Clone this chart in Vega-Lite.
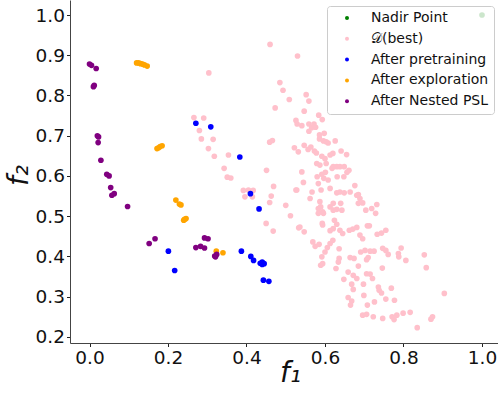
{
  "$schema": "https://vega.github.io/schema/vega-lite/v6.json",
  "width": 428,
  "height": 343,
  "autosize": "none",
  "padding": {"left": 70, "top": 0, "right": 0, "bottom": 53},
  "background": "white",
  "config": {
    "view": {"stroke": null},
    "font": "DejaVu Sans",
    "axis": {"grid": false}
  },
  "datasets": {
    "pts": [
      {"s": "Nadir Point", "x": 1.0, "y": 1.0},
      {"s": "𝒟(best)", "x": 0.46, "y": 0.927},
      {"s": "𝒟(best)", "x": 0.53, "y": 0.898},
      {"s": "𝒟(best)", "x": 0.304, "y": 0.856},
      {"s": "𝒟(best)", "x": 0.485, "y": 0.832},
      {"s": "𝒟(best)", "x": 0.493, "y": 0.813},
      {"s": "𝒟(best)", "x": 0.509, "y": 0.79},
      {"s": "𝒟(best)", "x": 0.473, "y": 0.769},
      {"s": "𝒟(best)", "x": 0.526, "y": 0.738},
      {"s": "𝒟(best)", "x": 0.529, "y": 0.729},
      {"s": "𝒟(best)", "x": 0.266, "y": 0.745},
      {"s": "𝒟(best)", "x": 0.291, "y": 0.744},
      {"s": "𝒟(best)", "x": 0.28, "y": 0.713},
      {"s": "𝒟(best)", "x": 0.285, "y": 0.692},
      {"s": "𝒟(best)", "x": 0.315, "y": 0.691},
      {"s": "𝒟(best)", "x": 0.303, "y": 0.668},
      {"s": "𝒟(best)", "x": 0.318, "y": 0.649},
      {"s": "𝒟(best)", "x": 0.354, "y": 0.652},
      {"s": "𝒟(best)", "x": 0.459, "y": 0.684},
      {"s": "𝒟(best)", "x": 0.466, "y": 0.688},
      {"s": "𝒟(best)", "x": 0.522, "y": 0.67},
      {"s": "𝒟(best)", "x": 0.532, "y": 0.66},
      {"s": "𝒟(best)", "x": 0.343, "y": 0.619},
      {"s": "𝒟(best)", "x": 0.351, "y": 0.597},
      {"s": "𝒟(best)", "x": 0.36, "y": 0.595},
      {"s": "𝒟(best)", "x": 0.451, "y": 0.614},
      {"s": "𝒟(best)", "x": 0.469, "y": 0.574},
      {"s": "𝒟(best)", "x": 0.392, "y": 0.564},
      {"s": "𝒟(best)", "x": 0.405, "y": 0.565},
      {"s": "𝒟(best)", "x": 0.417, "y": 0.564},
      {"s": "𝒟(best)", "x": 0.396, "y": 0.548},
      {"s": "𝒟(best)", "x": 0.415, "y": 0.548},
      {"s": "𝒟(best)", "x": 0.463, "y": 0.55},
      {"s": "𝒟(best)", "x": 0.528, "y": 0.565},
      {"s": "𝒟(best)", "x": 0.552, "y": 0.802},
      {"s": "𝒟(best)", "x": 0.559, "y": 0.786},
      {"s": "𝒟(best)", "x": 0.547, "y": 0.761},
      {"s": "𝒟(best)", "x": 0.584, "y": 0.751},
      {"s": "𝒟(best)", "x": 0.593, "y": 0.74},
      {"s": "𝒟(best)", "x": 0.541, "y": 0.725},
      {"s": "𝒟(best)", "x": 0.559, "y": 0.729},
      {"s": "𝒟(best)", "x": 0.566, "y": 0.72},
      {"s": "𝒟(best)", "x": 0.572, "y": 0.729},
      {"s": "𝒟(best)", "x": 0.576, "y": 0.721},
      {"s": "𝒟(best)", "x": 0.559, "y": 0.711},
      {"s": "𝒟(best)", "x": 0.586, "y": 0.692},
      {"s": "𝒟(best)", "x": 0.596, "y": 0.687},
      {"s": "𝒟(best)", "x": 0.603, "y": 0.685},
      {"s": "𝒟(best)", "x": 0.608, "y": 0.682},
      {"s": "𝒟(best)", "x": 0.626, "y": 0.687},
      {"s": "𝒟(best)", "x": 0.598, "y": 0.706},
      {"s": "𝒟(best)", "x": 0.586, "y": 0.702},
      {"s": "𝒟(best)", "x": 0.547, "y": 0.676},
      {"s": "𝒟(best)", "x": 0.557, "y": 0.666},
      {"s": "𝒟(best)", "x": 0.564, "y": 0.672},
      {"s": "𝒟(best)", "x": 0.573, "y": 0.662},
      {"s": "𝒟(best)", "x": 0.578, "y": 0.657},
      {"s": "𝒟(best)", "x": 0.592, "y": 0.649},
      {"s": "𝒟(best)", "x": 0.6, "y": 0.643},
      {"s": "𝒟(best)", "x": 0.613, "y": 0.652},
      {"s": "𝒟(best)", "x": 0.62, "y": 0.656},
      {"s": "𝒟(best)", "x": 0.641, "y": 0.662},
      {"s": "𝒟(best)", "x": 0.655, "y": 0.653},
      {"s": "𝒟(best)", "x": 0.579, "y": 0.631},
      {"s": "𝒟(best)", "x": 0.587, "y": 0.627},
      {"s": "𝒟(best)", "x": 0.603, "y": 0.631},
      {"s": "𝒟(best)", "x": 0.621, "y": 0.623},
      {"s": "𝒟(best)", "x": 0.63, "y": 0.623},
      {"s": "𝒟(best)", "x": 0.638, "y": 0.623},
      {"s": "𝒟(best)", "x": 0.649, "y": 0.623},
      {"s": "𝒟(best)", "x": 0.618, "y": 0.619},
      {"s": "𝒟(best)", "x": 0.661, "y": 0.614},
      {"s": "𝒟(best)", "x": 0.541, "y": 0.61},
      {"s": "𝒟(best)", "x": 0.58, "y": 0.598},
      {"s": "𝒟(best)", "x": 0.583, "y": 0.581},
      {"s": "𝒟(best)", "x": 0.597, "y": 0.594},
      {"s": "𝒟(best)", "x": 0.608, "y": 0.59},
      {"s": "𝒟(best)", "x": 0.631, "y": 0.598},
      {"s": "𝒟(best)", "x": 0.648, "y": 0.598},
      {"s": "𝒟(best)", "x": 0.676, "y": 0.576},
      {"s": "𝒟(best)", "x": 0.545, "y": 0.584},
      {"s": "𝒟(best)", "x": 0.567, "y": 0.56},
      {"s": "𝒟(best)", "x": 0.59, "y": 0.565},
      {"s": "𝒟(best)", "x": 0.613, "y": 0.569},
      {"s": "𝒟(best)", "x": 0.63, "y": 0.558},
      {"s": "𝒟(best)", "x": 0.638, "y": 0.56},
      {"s": "𝒟(best)", "x": 0.649, "y": 0.558},
      {"s": "𝒟(best)", "x": 0.664, "y": 0.56},
      {"s": "𝒟(best)", "x": 0.685, "y": 0.554},
      {"s": "𝒟(best)", "x": 0.592, "y": 0.604},
      {"s": "𝒟(best)", "x": 0.601, "y": 0.609},
      {"s": "𝒟(best)", "x": 0.656, "y": 0.609},
      {"s": "𝒟(best)", "x": 0.526, "y": 0.565},
      {"s": "𝒟(best)", "x": 0.562, "y": 0.544},
      {"s": "𝒟(best)", "x": 0.681, "y": 0.552},
      {"s": "𝒟(best)", "x": 0.689, "y": 0.544},
      {"s": "𝒟(best)", "x": 0.621, "y": 0.532},
      {"s": "𝒟(best)", "x": 0.64, "y": 0.532},
      {"s": "𝒟(best)", "x": 0.587, "y": 0.536},
      {"s": "𝒟(best)", "x": 0.589, "y": 0.523},
      {"s": "𝒟(best)", "x": 0.594, "y": 0.511},
      {"s": "𝒟(best)", "x": 0.583, "y": 0.519},
      {"s": "𝒟(best)", "x": 0.583, "y": 0.507},
      {"s": "𝒟(best)", "x": 0.596, "y": 0.507},
      {"s": "𝒟(best)", "x": 0.613, "y": 0.523},
      {"s": "𝒟(best)", "x": 0.621, "y": 0.515},
      {"s": "𝒟(best)", "x": 0.63, "y": 0.517},
      {"s": "𝒟(best)", "x": 0.643, "y": 0.515},
      {"s": "𝒟(best)", "x": 0.685, "y": 0.532},
      {"s": "𝒟(best)", "x": 0.696, "y": 0.533},
      {"s": "𝒟(best)", "x": 0.704, "y": 0.515},
      {"s": "𝒟(best)", "x": 0.719, "y": 0.519},
      {"s": "𝒟(best)", "x": 0.732, "y": 0.529},
      {"s": "𝒟(best)", "x": 0.729, "y": 0.507},
      {"s": "𝒟(best)", "x": 0.512, "y": 0.501},
      {"s": "𝒟(best)", "x": 0.593, "y": 0.482},
      {"s": "𝒟(best)", "x": 0.624, "y": 0.49},
      {"s": "𝒟(best)", "x": 0.63, "y": 0.48},
      {"s": "𝒟(best)", "x": 0.536, "y": 0.473},
      {"s": "𝒟(best)", "x": 0.547, "y": 0.461},
      {"s": "𝒟(best)", "x": 0.613, "y": 0.464},
      {"s": "𝒟(best)", "x": 0.621, "y": 0.469},
      {"s": "𝒟(best)", "x": 0.638, "y": 0.465},
      {"s": "𝒟(best)", "x": 0.645, "y": 0.457},
      {"s": "𝒟(best)", "x": 0.662, "y": 0.465},
      {"s": "𝒟(best)", "x": 0.671, "y": 0.468},
      {"s": "𝒟(best)", "x": 0.681, "y": 0.472},
      {"s": "𝒟(best)", "x": 0.689, "y": 0.453},
      {"s": "𝒟(best)", "x": 0.696, "y": 0.444},
      {"s": "𝒟(best)", "x": 0.708, "y": 0.476},
      {"s": "𝒟(best)", "x": 0.713, "y": 0.476},
      {"s": "𝒟(best)", "x": 0.733, "y": 0.455},
      {"s": "𝒟(best)", "x": 0.744, "y": 0.458},
      {"s": "𝒟(best)", "x": 0.755, "y": 0.465},
      {"s": "𝒟(best)", "x": 0.62, "y": 0.44},
      {"s": "𝒟(best)", "x": 0.613, "y": 0.432},
      {"s": "𝒟(best)", "x": 0.606, "y": 0.422},
      {"s": "𝒟(best)", "x": 0.569, "y": 0.436},
      {"s": "𝒟(best)", "x": 0.575, "y": 0.425},
      {"s": "𝒟(best)", "x": 0.585, "y": 0.43},
      {"s": "𝒟(best)", "x": 0.6, "y": 0.411},
      {"s": "𝒟(best)", "x": 0.592, "y": 0.399},
      {"s": "𝒟(best)", "x": 0.636, "y": 0.419},
      {"s": "𝒟(best)", "x": 0.691, "y": 0.411},
      {"s": "𝒟(best)", "x": 0.702, "y": 0.415},
      {"s": "𝒟(best)", "x": 0.715, "y": 0.413},
      {"s": "𝒟(best)", "x": 0.725, "y": 0.413},
      {"s": "𝒟(best)", "x": 0.747, "y": 0.42},
      {"s": "𝒟(best)", "x": 0.755, "y": 0.415},
      {"s": "𝒟(best)", "x": 0.664, "y": 0.397},
      {"s": "𝒟(best)", "x": 0.674, "y": 0.395},
      {"s": "𝒟(best)", "x": 0.636, "y": 0.395},
      {"s": "𝒟(best)", "x": 0.634, "y": 0.386},
      {"s": "𝒟(best)", "x": 0.706, "y": 0.392},
      {"s": "𝒟(best)", "x": 0.71, "y": 0.397},
      {"s": "𝒟(best)", "x": 0.589, "y": 0.378},
      {"s": "𝒟(best)", "x": 0.594, "y": 0.382},
      {"s": "𝒟(best)", "x": 0.685, "y": 0.376},
      {"s": "𝒟(best)", "x": 0.628, "y": 0.37},
      {"s": "𝒟(best)", "x": 0.746, "y": 0.371},
      {"s": "𝒟(best)", "x": 0.659, "y": 0.361},
      {"s": "𝒟(best)", "x": 0.672, "y": 0.353},
      {"s": "𝒟(best)", "x": 0.681, "y": 0.345},
      {"s": "𝒟(best)", "x": 0.648, "y": 0.343},
      {"s": "𝒟(best)", "x": 0.706, "y": 0.357},
      {"s": "𝒟(best)", "x": 0.715, "y": 0.356},
      {"s": "𝒟(best)", "x": 0.721, "y": 0.345},
      {"s": "𝒟(best)", "x": 0.668, "y": 0.331},
      {"s": "𝒟(best)", "x": 0.672, "y": 0.318},
      {"s": "𝒟(best)", "x": 0.698, "y": 0.331},
      {"s": "𝒟(best)", "x": 0.736, "y": 0.324},
      {"s": "𝒟(best)", "x": 0.659, "y": 0.298},
      {"s": "𝒟(best)", "x": 0.668, "y": 0.289},
      {"s": "𝒟(best)", "x": 0.699, "y": 0.303},
      {"s": "𝒟(best)", "x": 0.726, "y": 0.287},
      {"s": "𝒟(best)", "x": 0.738, "y": 0.316},
      {"s": "𝒟(best)", "x": 0.744, "y": 0.309},
      {"s": "𝒟(best)", "x": 0.665, "y": 0.279},
      {"s": "𝒟(best)", "x": 0.708, "y": 0.279},
      {"s": "𝒟(best)", "x": 0.696, "y": 0.254},
      {"s": "𝒟(best)", "x": 0.706, "y": 0.256},
      {"s": "𝒟(best)", "x": 0.723, "y": 0.25},
      {"s": "𝒟(best)", "x": 0.747, "y": 0.246},
      {"s": "𝒟(best)", "x": 0.761, "y": 0.405},
      {"s": "𝒟(best)", "x": 0.794, "y": 0.421},
      {"s": "𝒟(best)", "x": 0.787, "y": 0.407},
      {"s": "𝒟(best)", "x": 0.788, "y": 0.399},
      {"s": "𝒟(best)", "x": 0.806, "y": 0.39},
      {"s": "𝒟(best)", "x": 0.853, "y": 0.404},
      {"s": "𝒟(best)", "x": 0.858, "y": 0.372},
      {"s": "𝒟(best)", "x": 0.769, "y": 0.321},
      {"s": "𝒟(best)", "x": 0.755, "y": 0.294},
      {"s": "𝒟(best)", "x": 0.777, "y": 0.291},
      {"s": "𝒟(best)", "x": 0.904, "y": 0.308},
      {"s": "𝒟(best)", "x": 0.771, "y": 0.25},
      {"s": "𝒟(best)", "x": 0.776, "y": 0.243},
      {"s": "𝒟(best)", "x": 0.783, "y": 0.254},
      {"s": "𝒟(best)", "x": 0.799, "y": 0.259},
      {"s": "𝒟(best)", "x": 0.817, "y": 0.261},
      {"s": "𝒟(best)", "x": 0.835, "y": 0.223},
      {"s": "𝒟(best)", "x": 0.87, "y": 0.244},
      {"s": "𝒟(best)", "x": 0.874, "y": 0.25},
      {"s": "𝒟(best)", "x": 0.459, "y": 0.534},
      {"s": "𝒟(best)", "x": 0.5, "y": 0.527},
      {"s": "𝒟(best)", "x": 0.45, "y": 0.482},
      {"s": "𝒟(best)", "x": 0.468, "y": 0.463},
      {"s": "𝒟(best)", "x": 0.533, "y": 0.471},
      {"s": "𝒟(best)", "x": 0.594, "y": 0.478},
      {"s": "After pretraining", "x": 0.271, "y": 0.731},
      {"s": "After pretraining", "x": 0.309, "y": 0.722},
      {"s": "After pretraining", "x": 0.383, "y": 0.647},
      {"s": "After pretraining", "x": 0.41, "y": 0.556},
      {"s": "After pretraining", "x": 0.432, "y": 0.518},
      {"s": "After pretraining", "x": 0.201, "y": 0.413},
      {"s": "After pretraining", "x": 0.217, "y": 0.365},
      {"s": "After pretraining", "x": 0.387, "y": 0.413},
      {"s": "After pretraining", "x": 0.411, "y": 0.4},
      {"s": "After pretraining", "x": 0.418, "y": 0.39},
      {"s": "After pretraining", "x": 0.435, "y": 0.383},
      {"s": "After pretraining", "x": 0.44, "y": 0.38},
      {"s": "After pretraining", "x": 0.445, "y": 0.382},
      {"s": "After pretraining", "x": 0.44, "y": 0.386},
      {"s": "After pretraining", "x": 0.443, "y": 0.341},
      {"s": "After pretraining", "x": 0.457, "y": 0.338},
      {"s": "After exploration", "x": 0.12, "y": 0.881},
      {"s": "After exploration", "x": 0.125, "y": 0.881},
      {"s": "After exploration", "x": 0.13, "y": 0.879},
      {"s": "After exploration", "x": 0.135, "y": 0.878},
      {"s": "After exploration", "x": 0.14, "y": 0.876},
      {"s": "After exploration", "x": 0.147, "y": 0.873},
      {"s": "After exploration", "x": 0.172, "y": 0.668},
      {"s": "After exploration", "x": 0.176, "y": 0.67},
      {"s": "After exploration", "x": 0.18, "y": 0.673},
      {"s": "After exploration", "x": 0.185, "y": 0.675},
      {"s": "After exploration", "x": 0.22, "y": 0.54},
      {"s": "After exploration", "x": 0.229, "y": 0.53},
      {"s": "After exploration", "x": 0.233, "y": 0.528},
      {"s": "After exploration", "x": 0.24, "y": 0.49},
      {"s": "After exploration", "x": 0.242, "y": 0.492},
      {"s": "After exploration", "x": 0.246, "y": 0.494},
      {"s": "After exploration", "x": 0.323, "y": 0.413},
      {"s": "After exploration", "x": 0.34, "y": 0.409},
      {"s": "After Nested PSL", "x": 0.0, "y": 0.878},
      {"s": "After Nested PSL", "x": 0.005, "y": 0.875},
      {"s": "After Nested PSL", "x": 0.017, "y": 0.867},
      {"s": "After Nested PSL", "x": 0.01, "y": 0.822},
      {"s": "After Nested PSL", "x": 0.012, "y": 0.825},
      {"s": "After Nested PSL", "x": 0.02, "y": 0.7},
      {"s": "After Nested PSL", "x": 0.023, "y": 0.697},
      {"s": "After Nested PSL", "x": 0.022, "y": 0.683},
      {"s": "After Nested PSL", "x": 0.029, "y": 0.639},
      {"s": "After Nested PSL", "x": 0.044, "y": 0.604},
      {"s": "After Nested PSL", "x": 0.05, "y": 0.6},
      {"s": "After Nested PSL", "x": 0.054, "y": 0.571},
      {"s": "After Nested PSL", "x": 0.057, "y": 0.552},
      {"s": "After Nested PSL", "x": 0.063, "y": 0.556},
      {"s": "After Nested PSL", "x": 0.097, "y": 0.524},
      {"s": "After Nested PSL", "x": 0.152, "y": 0.432},
      {"s": "After Nested PSL", "x": 0.167, "y": 0.444},
      {"s": "After Nested PSL", "x": 0.271, "y": 0.422},
      {"s": "After Nested PSL", "x": 0.283, "y": 0.425},
      {"s": "After Nested PSL", "x": 0.293, "y": 0.421},
      {"s": "After Nested PSL", "x": 0.293, "y": 0.446},
      {"s": "After Nested PSL", "x": 0.302, "y": 0.444},
      {"s": "After Nested PSL", "x": 0.321, "y": 0.399},
      {"s": "After Nested PSL", "x": 0.324, "y": 0.405},
      {"s": "After Nested PSL", "x": 0.319, "y": 0.401}
    ]
  },
  "data": {"name": "pts"},
  "mark": {"type": "point", "filled": true, "opacity": 1, "size": 32, "clip": true},
  "encoding": {
    "x": {
      "field": "x", "type": "quantitative",
      "scale": {"domain": [-0.0497, 1.0408], "nice": false, "zero": false},
      "axis": {
        "title": "f₁", "values": [0, 0.2, 0.4, 0.6, 0.8, 1.0], "format": ".1f",
        "labelFontSize": 18.5, "labelColor": "#111", "labelPadding": 2,
        "tickSize": 3.5, "tickColor": "#222", "domainColor": "#444", "domainWidth": 1,
        "titleFontSize": 28, "titleFontStyle": "italic", "titleFontWeight": "normal", "titleColor": "#111",
        "titleX": 220, "titleY": 38, "titleBaseline": "alphabetic", "titleAlign": "center"
      }
    },
    "y": {
      "field": "y", "type": "quantitative",
      "scale": {"domain": [0.1848, 1.0373], "nice": false, "zero": false},
      "axis": {
        "title": "f₂", "values": [0.2, 0.3, 0.4, 0.5, 0.6, 0.7, 0.8, 0.9, 1.0], "format": ".1f",
        "labelFontSize": 18.5, "labelColor": "#111", "labelPadding": 2,
        "tickSize": 3.5, "tickColor": "#222", "domainColor": "#444", "domainWidth": 1,
        "titleFontSize": 28, "titleFontStyle": "italic", "titleFontWeight": "normal", "titleColor": "#111",
        "titleX": -43, "titleY": 175, "titleAngle": -90, "titleBaseline": "alphabetic", "titleAlign": "center"
      }
    },
    "color": {
      "field": "s", "type": "nominal",
      "scale": {
        "domain": ["Nadir Point", "𝒟(best)", "After pretraining", "After exploration", "After Nested PSL"],
        "range": ["#008000", "#FFC0CB", "#0000FF", "#FFA500", "#800080"]
      },
      "legend": {
        "title": null, "orient": "none", "legendX": 257, "legendY": 6,
        "fillColor": "rgba(255,255,255,0.8)", "strokeColor": "#cccccc", "cornerRadius": 3,
        "padding": 5, "symbolSize": 16, "symbolType": "circle", "symbolOffset": 8,
        "labelOffset": 17, "labelFontSize": 14, "labelColor": "#111", "labelFont": "DejaVu Sans",
        "rowPadding": 6.8, "labelLimit": 300
      }
    }
  }
}
